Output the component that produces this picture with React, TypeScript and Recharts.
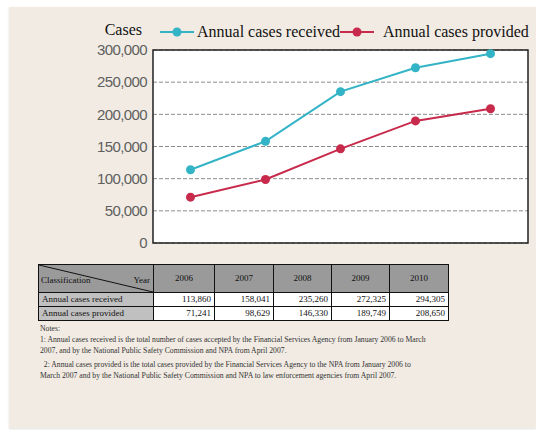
import React from 'react';
import { LineChart, Line, XAxis, YAxis, CartesianGrid, Legend, ReferenceArea } from 'recharts';

const years = [2006, 2007, 2008, 2009, 2010];
const received = [113860, 158041, 235260, 272325, 294305];
const provided = [71241, 98629, 146330, 189749, 208650];
const yTicks = [0, 50000, 100000, 150000, 200000, 250000, 300000];
const xTicks = [2006.5, 2007.5, 2008.5, 2009.5, 2010.5];
const seriesNames = ['Annual cases received', 'Annual cases provided'];
const notes = [
  'Notes:',
  '1: Annual cases received is the total number of cases accepted by the Financial Services Agency from January 2006 to March',
  '2007, and by the National Public Safety Commission and NPA from April 2007.',
  '\u00a0\u00a02: Annual cases provided is the total cases provided by the Financial Services Agency to the NPA from January 2006 to',
  'March 2007 and by the National Public Safety Commission and NPA to law enforcement agencies from April 2007.',
];

const TEAL = '#33b4c6';
const RED = '#c82a4b';
const SERIF = '"Liberation Serif", "Times New Roman", serif';

const data = years.map((year, i) => ({ year, received: received[i], provided: provided[i] }));
const fmt = (v: number) => v.toLocaleString('en-US');

const renderLegend = (props: any) => {
  const items = [...(props.payload || [])].sort(
    (a: any, b: any) => seriesNames.indexOf(a.value) - seriesNames.indexOf(b.value)
  );
  return (
    <div style={{ display: 'flex', alignItems: 'center', fontFamily: SERIF, fontSize: 16, color: '#111', whiteSpace: 'nowrap' }}>
      {items.map((it: any, i: number) => (
        <div key={i} style={{ display: 'flex', alignItems: 'center' }}>
          <svg width={34} height={12} style={{ marginRight: i === 0 ? 3 : 9 }}>
            <line x1={0} y1={6} x2={34} y2={6} stroke={it.color} strokeWidth={2} />
            <circle cx={17} cy={6} r={4.5} fill={it.color} />
          </svg>
          <span>{it.value}</span>
        </div>
      ))}
    </div>
  );
};

const cell: React.CSSProperties = {
  border: '1.5px solid #111',
  padding: '0 3px',
  height: 13,
  lineHeight: '13px',
};

export default function App() {
  return (
    <div style={{ position: 'absolute', left: 0, top: 0, width: 536, height: 432, background: '#fff', overflow: 'hidden' }}>
      <div style={{ position: 'absolute', left: 9, top: 7, width: 527, height: 421, background: '#f1ebe3', boxShadow: '0 1px 2px rgba(0,0,0,0.12)' }} />
      <div style={{ position: 'absolute', left: 0, top: 0 }}>
        <LineChart width={536} height={260} data={data} margin={{ top: 50, right: 8, bottom: 17, left: 0 }}>
          <CartesianGrid horizontal vertical={false} fill="#ffffff" stroke="#8c8c8c" strokeDasharray="4 2" />
          <XAxis
            dataKey="year"
            type="number"
            domain={[2005.5, 2010.5]}
            ticks={xTicks}
            height={0}
            mirror
            tickSize={4}
            tickFormatter={() => ''}
            axisLine={{ stroke: '#222', strokeWidth: 1.5 }}
            tickLine={{ stroke: '#222', strokeWidth: 1.5 }}
          />
          <YAxis
            domain={[0, 300000]}
            ticks={yTicks}
            width={153}
            axisLine={false}
            tickLine={false}
            tickSize={4}
            tickMargin={2}
            tickFormatter={fmt}
            tick={{ fill: '#5f5f5f', fontSize: 15, fontFamily: '"Liberation Sans", Arial, sans-serif', letterSpacing: -0.6 }}
            label={{
              content: (p: any) => (
                <text x={p.viewBox.x + p.viewBox.width - 11} y={p.viewBox.y - 15} textAnchor="end" fontFamily={SERIF} fontSize={16} fill="#111">
                  Cases
                </text>
              ),
            }}
          />
          <ReferenceArea x1={2005.5} x2={2010.5} y1={0} y2={300000} fill="none" fillOpacity={0} stroke="#222" strokeWidth={1.5} />
          <Legend
            verticalAlign="middle"
            align="center"
            layout="horizontal"
            wrapperStyle={{ top: 23, left: 160, width: 'auto' }}
            content={renderLegend}
          />
          <Line dataKey="received" name={seriesNames[0]} stroke={TEAL} strokeWidth={2} dot={{ r: 4.5, fill: TEAL, stroke: 'none' }} isAnimationActive={false} />
          <Line dataKey="provided" name={seriesNames[1]} stroke={RED} strokeWidth={2} dot={{ r: 4.5, fill: RED, stroke: 'none' }} isAnimationActive={false} />
        </LineChart>
      </div>
      <table
        style={{
          position: 'absolute',
          left: 38,
          top: 264,
          borderCollapse: 'collapse',
          fontFamily: SERIF,
          fontSize: 9,
          color: '#111',
          tableLayout: 'fixed',
          width: 410,
        }}
      >
        <colgroup>
          <col style={{ width: 115 }} />
          <col style={{ width: 61 }} />
          <col style={{ width: 59 }} />
          <col style={{ width: 58 }} />
          <col style={{ width: 58 }} />
          <col style={{ width: 59 }} />
        </colgroup>
        <tbody>
          <tr style={{ background: '#9a9a9a' }}>
            <td style={{ ...cell, height: 27, position: 'relative', padding: 0 }}>
              <svg width="100%" height="100%" style={{ position: 'absolute', left: 0, top: 0 }} viewBox="0 0 100 100" preserveAspectRatio="none">
                <line x1={0} y1={0} x2={100} y2={100} stroke="#111" strokeWidth={1} vectorEffect="non-scaling-stroke" />
              </svg>
              <span style={{ position: 'absolute', left: 2, top: 9 }}>Classification</span>
              <span style={{ position: 'absolute', right: 3, top: 9 }}>Year</span>
            </td>
            {years.map((y) => (
              <td key={y} style={{ ...cell, height: 27, textAlign: 'center' }}>{y}</td>
            ))}
          </tr>
          {[received, provided].map((row, r) => (
            <tr key={r}>
              <td style={{ ...cell, background: '#c0c0c0' }}>{seriesNames[r]}</td>
              {row.map((v, i) => (
                <td key={i} style={{ ...cell, background: '#fff', textAlign: 'right' }}>{fmt(v)}</td>
              ))}
            </tr>
          ))}
        </tbody>
      </table>
      <div style={{ position: 'absolute', left: 40, top: 323, fontFamily: SERIF, fontSize: 7.7, color: '#333', lineHeight: '11px', whiteSpace: 'nowrap' }}>
        {notes.map((n, i) => (
          <div key={i} style={{ marginTop: i === 3 ? 3 : 0 }}>{n}</div>
        ))}
      </div>
    </div>
  );
}
